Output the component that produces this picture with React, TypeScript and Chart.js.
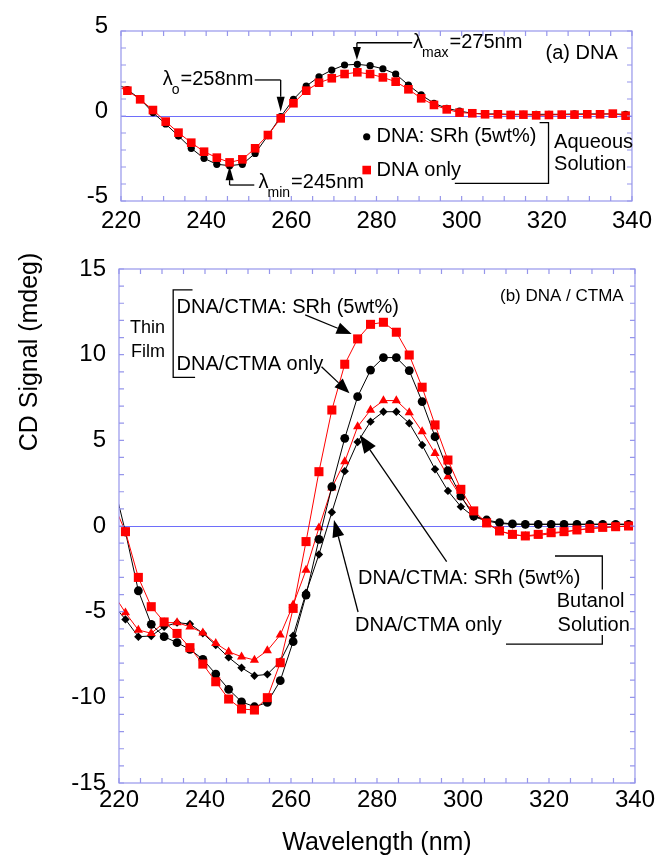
import React, { useEffect, useRef } from 'react';
import { Chart, registerables } from 'chart.js';
Chart.register(...registerables);

const FONT = '"Liberation Sans", Arial, Helvetica, sans-serif';
const RED = '#ff0000';
const BLACK = '#000000';
const FRAME = 'rgb(150,150,235)';
const ZERO = 'rgb(110,110,250)';

// ---- data ----
const wavelengths = [218.5, 221.5, 224.5, 227.5, 230.5, 233.5, 236.5, 239.5, 242.5, 245.5, 248.5, 251.5, 254.5, 257.5, 260.5, 263.5, 266.5, 269.5, 272.5, 275.5, 278.5, 281.5, 284.5, 287.5, 290.5, 293.5, 296.5, 299.5, 302.5, 305.5, 308.5, 311.5, 314.5, 317.5, 320.5, 323.5, 326.5, 329.5, 332.5, 335.5, 338.5];

// (a) DNA, aqueous solution
const dnaSRh = [1.97, 1.55, 1.0, 0.2, -0.47, -1.18, -1.9, -2.49, -2.84, -2.92, -2.84, -2.2, -1.15, -0.04, 0.98, 1.76, 2.31, 2.7, 3.0, 3.04, 2.96, 2.78, 2.47, 1.82, 1.24, 0.75, 0.45, 0.29, 0.16, 0.12, 0.12, 0.1, 0.1, 0.1, 0.1, 0.1, 0.12, 0.12, 0.12, 0.12, 0.1];
const dnaOnly = [1.8, 1.49, 0.98, 0.35, -0.33, -0.98, -1.57, -2.1, -2.45, -2.73, -2.55, -1.9, -1.12, -0.14, 0.75, 1.49, 1.96, 2.22, 2.47, 2.57, 2.47, 2.27, 2.02, 1.57, 1.04, 0.65, 0.39, 0.2, 0.16, 0.1, 0.1, 0.06, 0.08, 0.04, 0.06, 0.08, 0.08, 0.1, 0.1, 0.14, 0.02];

// (b) DNA/CTMA
const filmSRh = [1.4, -0.33, -3.0, -4.71, -5.6, -6.27, -7.1, -8.06, -9.09, -10.1, -10.68, -10.74, -10.02, -7.98, -4.81, -0.91, 3.17, 6.77, 9.44, 10.92, 11.77, 11.89, 11.31, 9.98, 8.1, 5.9, 3.85, 2.14, 0.88, 0.18, -0.29, -0.49, -0.58, -0.49, -0.39, -0.33, -0.23, -0.14, -0.08, -0.04, 0.0];
const filmOnly = [2.75, -0.35, -3.78, -5.74, -6.46, -6.81, -7.2, -7.78, -8.64, -9.53, -10.26, -10.55, -10.3, -9.03, -6.75, -4.03, -0.78, 2.29, 5.12, 7.55, 9.1, 9.83, 9.83, 9.07, 7.26, 5.21, 3.23, 1.75, 0.58, 0.35, 0.2, 0.12, 0.1, 0.1, 0.1, 0.1, 0.1, 0.1, 0.1, 0.1, 0.1];
const butSRh = [-3.9, -5.06, -6.07, -6.26, -5.64, -5.64, -5.88, -6.23, -6.85, -7.34, -7.63, -7.82, -7.27, -6.36, -4.6, -2.57, -0.1, 2.23, 3.76, 5.8, 6.77, 7.32, 7.32, 6.62, 5.51, 4.24, 2.88, 1.71, 0.74, 0.16, -0.3, -0.5, -0.6, -0.55, -0.45, -0.35, -0.25, -0.15, -0.1, -0.05, 0.0];
const butOnly = [-4.55, -5.45, -6.46, -6.42, -5.88, -5.64, -5.72, -6.26, -6.95, -7.67, -8.27, -8.74, -8.66, -7.9, -6.4, -3.9, -1.66, 0.8, 3.2, 4.9, 6.09, 6.67, 6.67, 6.0, 4.73, 3.31, 2.05, 1.13, 0.54, 0.3, 0.15, 0.1, 0.1, 0.1, 0.1, 0.1, 0.1, 0.1, 0.1, 0.1, 0.1];

const xTickLabels = [220, 240, 260, 280, 300, 320, 340];
const yTicksTop = [-5, 0, 5];
const yTicksBottom = [-15, -10, -5, 0, 5, 10, 15];

const pts = (ys: number[]) => wavelengths.map((x, i) => ({ x, y: ys[i] }));

// ---- helpers ----
function fnt(size: number) {
  return `${size}px ${FONT}`;
}

function framePlugin(xMinorStep: number, yMinorStep: number) {
  return {
    id: 'frame',
    beforeDatasetsDraw(chart: any) {
      const { ctx, chartArea: a, scales } = chart;
      const y0 = Math.round(scales.y.getPixelForValue(0)) + 0.5;
      ctx.save();
      ctx.strokeStyle = ZERO;
      ctx.lineWidth = 1;
      ctx.beginPath();
      ctx.moveTo(a.left, y0);
      ctx.lineTo(a.right, y0);
      ctx.stroke();
      ctx.restore();
    },
    afterDatasetsDraw(chart: any) {
      const { ctx, chartArea: a, scales } = chart;
      const xs = scales.x, ys = scales.y;
      ctx.save();
      ctx.strokeStyle = FRAME;
      ctx.lineWidth = 1.2;
      ctx.strokeRect(a.left, a.top, a.right - a.left, a.bottom - a.top);
      const L = 5;
      ctx.beginPath();
      for (let v = xs.min; v <= xs.max + 1e-6; v += xMinorStep) {
        const p = xs.getPixelForValue(v);
        ctx.moveTo(p, a.bottom); ctx.lineTo(p, a.bottom - L);
        ctx.moveTo(p, a.top); ctx.lineTo(p, a.top + L);
      }
      for (let v = ys.min; v <= ys.max + 1e-6; v += yMinorStep) {
        const p = ys.getPixelForValue(v);
        ctx.moveTo(a.left, p); ctx.lineTo(a.left + L, p);
        ctx.moveTo(a.right, p); ctx.lineTo(a.right - L, p);
      }
      ctx.stroke();
      ctx.restore();
    },
  };
}

function text(ctx: any, s: string, x: number, y: number, size: number, align = 'left') {
  ctx.font = fnt(size);
  ctx.textAlign = align;
  ctx.textBaseline = 'middle';
  ctx.fillStyle = BLACK;
  ctx.fillText(s, x, y);
}

function lambdaText(ctx: any, x: number, y: number, sub: string, rest: string) {
  ctx.fillStyle = BLACK;
  ctx.textBaseline = 'middle';
  ctx.textAlign = 'left';
  ctx.font = fnt(20);
  ctx.fillText('λ', x, y);
  const w1 = ctx.measureText('λ').width;
  ctx.font = fnt(14);
  ctx.fillText(sub, x + w1 - 1, y + 10);
  const w2 = ctx.measureText(sub).width;
  ctx.font = fnt(20);
  ctx.fillText(rest, x + w1 + w2, y);
}

function poly(ctx: any, p: number[][]) {
  ctx.beginPath();
  ctx.moveTo(p[0][0], p[0][1]);
  for (let i = 1; i < p.length; i++) ctx.lineTo(p[i][0], p[i][1]);
  ctx.stroke();
}

function arrow(ctx: any, x1: number, y1: number, x2: number, y2: number, len: number, hw: number) {
  const ang = Math.atan2(y2 - y1, x2 - x1);
  const bx = x2 - Math.cos(ang) * len, by = y2 - Math.sin(ang) * len;
  ctx.beginPath(); ctx.moveTo(x1, y1); ctx.lineTo(bx, by); ctx.stroke();
  ctx.beginPath();
  ctx.moveTo(x2, y2);
  ctx.lineTo(bx + Math.sin(ang) * hw, by - Math.cos(ang) * hw);
  ctx.lineTo(bx - Math.sin(ang) * hw, by + Math.cos(ang) * hw);
  ctx.closePath(); ctx.fill();
}

const topAnnot = {
  id: 'topAnnot',
  afterDraw(chart: any) {
    const { ctx, scales } = chart;
    const X = (v: number) => scales.x.getPixelForValue(v);
    const Y = (v: number) => scales.y.getPixelForValue(v);
    ctx.save();
    ctx.strokeStyle = BLACK; ctx.fillStyle = BLACK; ctx.lineWidth = 1.3;
    // lambda_o
    lambdaText(ctx, X(229.8), Y(2.12), 'o', '=258nm');
    poly(ctx, [[X(251.4), Y(2.12)], [X(257.5), Y(2.12)]]);
    arrow(ctx, X(257.5), Y(2.12), X(257.5), Y(0.25), 15, 4);
    // lambda_min
    lambdaText(ctx, X(252.3), Y(-3.94), 'min', '=245nm');
    poly(ctx, [[X(251.3), Y(-4.06)], [X(245.5), Y(-4.06)]]);
    arrow(ctx, X(245.5), Y(-4.06), X(245.5), Y(-2.95), 14, 4);
    // lambda_max
    lambdaText(ctx, X(288.6), Y(4.31), 'max', '=275nm');
    poly(ctx, [[X(288.4), Y(4.31)], [X(275.4), Y(4.31)]]);
    arrow(ctx, X(275.4), Y(4.31), X(275.4), Y(3.3), 13, 4);
    // panel label
    text(ctx, '(a) DNA', X(319.7), Y(3.7), 20);
    // legend
    ctx.beginPath(); ctx.arc(X(277.7), Y(-1.22), 3.6, 0, Math.PI * 2); ctx.fill();
    text(ctx, 'DNA: SRh (5wt%)', X(280), Y(-1.22), 20);
    ctx.fillStyle = RED;
    ctx.fillRect(X(277.7) - 4.3, Y(-3.18) - 4.3, 8.6, 8.6);
    text(ctx, 'DNA only', X(280), Y(-3.18), 20);
    ctx.strokeStyle = BLACK; ctx.lineWidth = 1.3;
    poly(ctx, [[X(298.4), Y(-3.96)], [X(320.4), Y(-3.96)], [X(320.4), Y(-0.39)], [X(318.3), Y(-0.39)]]);
    text(ctx, 'Aqueous', X(321.7), Y(-1.57), 20);
    text(ctx, 'Solution', X(321.7), Y(-2.88), 20);
    ctx.restore();
  },
};

const bottomAnnot = {
  id: 'bottomAnnot',
  afterDraw(chart: any) {
    const { ctx, scales, chartArea: a } = chart;
    const X = (v: number) => scales.x.getPixelForValue(v);
    const Y = (v: number) => scales.y.getPixelForValue(v);
    ctx.save();
    ctx.strokeStyle = BLACK; ctx.fillStyle = BLACK; ctx.lineWidth = 1.3;
    text(ctx, '(b) DNA / CTMA', X(308.6), Y(13.43), 17);
    // thin film
    text(ctx, 'Thin', X(230.7), Y(11.56), 18, 'right');
    text(ctx, 'Film', X(230.7), Y(10.18), 18, 'right');
    poly(ctx, [[X(237.1), Y(13.78)], [X(232.6), Y(13.78)], [X(232.6), Y(8.68)], [X(237.7), Y(8.68)]]);
    text(ctx, 'DNA/CTMA: SRh (5wt%)', X(233.4), Y(12.78), 20);
    text(ctx, 'DNA/CTMA only', X(233.4), Y(9.4), 20);
    arrow(ctx, X(263.3), Y(12.32), X(274.1), Y(11.21), 15, 6);
    arrow(ctx, X(267.1), Y(9.3), X(273.6), Y(7.75), 15, 6);
    // butanol
    text(ctx, 'DNA/CTMA: SRh (5wt%)', X(275.6), Y(-3.04), 20);
    text(ctx, 'DNA/CTMA only', X(274.9), Y(-5.78), 20);
    arrow(ctx, X(296.2), Y(-2.08), X(276), Y(5.31), 18, 7);
    arrow(ctx, X(275.6), Y(-5.02), X(270.0), Y(0.35), 17, 6);
    poly(ctx, [[X(321.4), Y(-1.75)], [X(332.4), Y(-1.75)], [X(332.4), Y(-3.7)]]);
    poly(ctx, [[X(332.4), Y(-6.36)], [X(332.4), Y(-6.9)], [X(310), Y(-6.9)]]);
    text(ctx, 'Butanol', X(321.8), Y(-4.42), 20);
    text(ctx, 'Solution', X(322), Y(-5.78), 20);
    // axis titles
    text(ctx, 'Wavelength (nm)', (a.left + a.right) / 2, 603, 25, 'center');
    ctx.save();
    ctx.translate(30, 112);
    ctx.rotate(-Math.PI / 2);
    text(ctx, 'CD Signal (mdeg)', 0, 0, 25, 'center');
    ctx.restore();
    ctx.restore();
  },
};

function series(label: string, ys: number[], color: string, style: string, r: number) {
  return {
    label,
    data: pts(ys),
    showLine: true,
    borderColor: color,
    backgroundColor: color,
    pointBackgroundColor: color,
    pointBorderColor: color,
    pointBorderWidth: 0,
    pointStyle: style,
    pointRadius: r,
    borderWidth: 1,
    tension: 0,
    clip: 0,
  };
}

function axes(yTicks: number[], yMin: number, yMax: number, yWidth: number, xHeight: number, xPad: number, yOffset: number) {
  return {
    x: {
      type: 'linear',
      min: 220,
      max: 340,
      afterBuildTicks: (s: any) => { s.ticks = xTickLabels.map((v) => ({ value: v })); },
      afterFit: (s: any) => { s.height = xHeight; },
      grid: { display: false, drawTicks: false },
      border: { display: false },
      ticks: { color: BLACK, font: { size: 24, family: FONT }, padding: xPad, maxRotation: 0, autoSkip: false },
    },
    y: {
      type: 'linear',
      min: yMin,
      max: yMax,
      afterBuildTicks: (s: any) => { s.ticks = yTicks.map((v) => ({ value: v })); },
      afterFit: (s: any) => { s.width = yWidth; },
      grid: { display: false, drawTicks: false },
      border: { display: false },
      ticks: { color: BLACK, font: { size: 24, family: FONT }, padding: 13, labelOffset: yOffset, autoSkip: false },
    },
  };
}

export default function App() {
  const topRef = useRef<HTMLCanvasElement>(null);
  const botRef = useRef<HTMLCanvasElement>(null);

  useEffect(() => {
    Chart.defaults.font.family = FONT;
    const top = new Chart(topRef.current as any, {
      type: 'scatter',
      data: {
        datasets: [
          series('DNA only', dnaOnly, RED, 'rect', 6.1),
          series('DNA: SRh (5wt%)', dnaSRh, BLACK, 'circle', 3.6),
        ],
      },
      options: {
        animation: false,
        responsive: false,
        devicePixelRatio: 1,
        layout: { padding: { top: 31, right: 23, bottom: 0, left: 0 } },
        plugins: { legend: { display: false }, tooltip: { enabled: false } },
        scales: axes(yTicksTop, -5, 5, 121, 39, 6, -5) as any,
      } as any,
      plugins: [framePlugin(5, 1), topAnnot] as any,
    });
    const bot = new Chart(botRef.current as any, {
      type: 'scatter',
      data: {
        datasets: [
          series('DNA/CTMA: SRh (5wt%) film', filmSRh, RED, 'rect', 6.4),
          series('DNA/CTMA only film', filmOnly, BLACK, 'circle', 4.4),
          series('DNA/CTMA: SRh (5wt%) butanol', butSRh, RED, 'triangle', 5.3),
          series('DNA/CTMA only butanol', butOnly, BLACK, 'rectRot', 4.2),
        ],
      },
      options: {
        animation: false,
        responsive: false,
        devicePixelRatio: 1,
        layout: { padding: { top: 29, right: 23, bottom: 0, left: 0 } },
        plugins: { legend: { display: false }, tooltip: { enabled: false } },
        scales: axes(yTicksBottom, -15, 15, 119, 76, 3, 0) as any,
      } as any,
      plugins: [framePlugin(5, 1), bottomAnnot] as any,
    });
    return () => {
      top.destroy();
      bot.destroy();
    };
  }, []);

  return (
    <div style={{ position: 'absolute', left: 0, top: 0, width: 658, height: 859, background: '#fff' }}>
      <canvas ref={topRef} width={658} height={240} style={{ position: 'absolute', left: 0, top: 0 }} />
      <canvas ref={botRef} width={658} height={619} style={{ position: 'absolute', left: 0, top: 240 }} />
    </div>
  );
}
